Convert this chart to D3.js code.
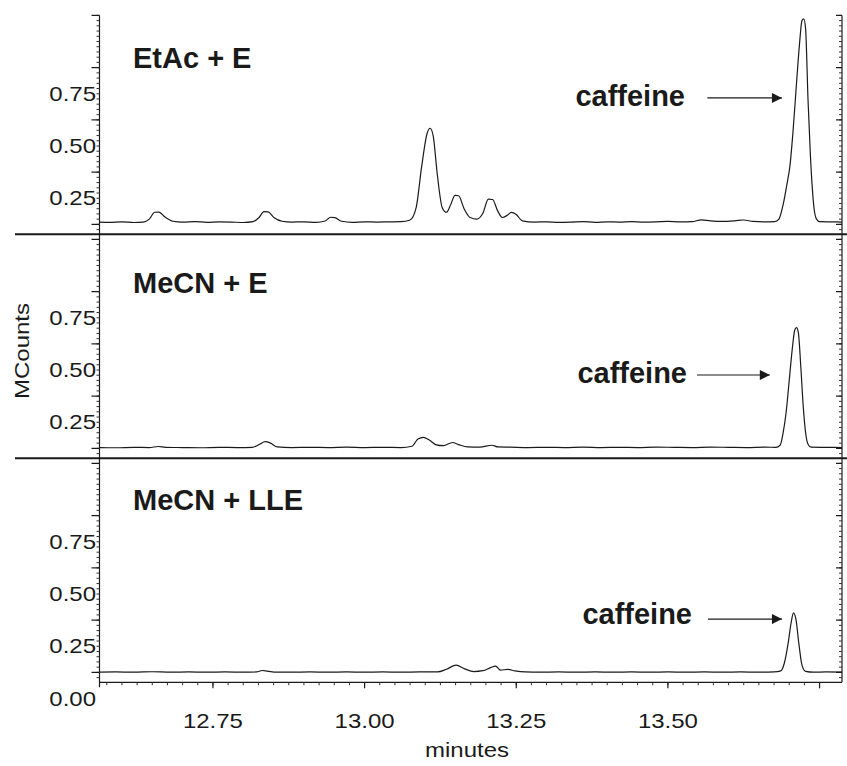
<!DOCTYPE html>
<html>
<head>
<meta charset="utf-8">
<script src="https://cdn.jsdelivr.net/npm/d3@7"></script>
<style>
  body { margin: 0; background: #fff; }
  svg { display: block; }
  text { font-family: "Liberation Sans", Arial, sans-serif; fill: #1a1a1a; }
</style>
</head>
<body>
<div id="chart"></div>
<script>
// panel titles, top to bottom
var panelNames = ["EtAc + E", "MeCN + E", "MeCN + LLE"];

// y tick labels (MCounts); the bottom panel also shows 0.00
var yLabelValues = [0.25, 0.50, 0.75];
var yMajorValues = [0.125, 0.375, 0.625, 0.875, 1.125];
var xMajorValues = [12.75, 13.00, 13.25, 13.50, 13.75];
var xTickLabels = ["12.75", "13.00", "13.25", "13.50"];

// [minutes, MCounts]
var etacTrace = [
  [12.563, 0.136], [12.58, 0.135], [12.60, 0.137], [12.62, 0.134], [12.635, 0.136],
  [12.645, 0.150], [12.654, 0.183], [12.661, 0.184], [12.671, 0.160], [12.684, 0.140],
  [12.70, 0.136], [12.72, 0.138], [12.74, 0.135], [12.76, 0.137], [12.78, 0.136],
  [12.80, 0.134], [12.816, 0.138], [12.826, 0.158], [12.834, 0.186], [12.841, 0.185],
  [12.851, 0.157], [12.864, 0.140], [12.88, 0.136], [12.90, 0.137], [12.92, 0.135],
  [12.935, 0.141], [12.944, 0.159], [12.951, 0.157], [12.962, 0.140], [12.98, 0.135],
  [13.00, 0.137], [13.02, 0.136], [13.04, 0.137], [13.06, 0.138], [13.075, 0.146],
  [13.085, 0.205], [13.094, 0.400], [13.103, 0.560], [13.108, 0.585], [13.113, 0.550],
  [13.120, 0.360], [13.128, 0.205], [13.135, 0.183], [13.142, 0.220], [13.149, 0.264],
  [13.155, 0.262], [13.164, 0.200], [13.174, 0.158], [13.185, 0.150], [13.195, 0.178],
  [13.204, 0.246], [13.211, 0.244], [13.219, 0.192], [13.227, 0.158], [13.235, 0.168],
  [13.242, 0.182], [13.250, 0.172], [13.260, 0.142], [13.28, 0.136], [13.30, 0.137],
  [13.32, 0.135], [13.34, 0.136], [13.36, 0.138], [13.38, 0.135], [13.40, 0.137],
  [13.42, 0.136], [13.44, 0.138], [13.46, 0.136], [13.48, 0.137], [13.50, 0.139],
  [13.52, 0.137], [13.54, 0.138], [13.555, 0.147], [13.57, 0.142], [13.59, 0.139],
  [13.61, 0.142], [13.625, 0.146], [13.64, 0.139], [13.66, 0.137], [13.676, 0.138],
  [13.683, 0.150], [13.690, 0.220], [13.697, 0.330], [13.701, 0.400], [13.706, 0.560],
  [13.712, 0.800], [13.717, 0.990], [13.721, 1.100], [13.724, 1.108], [13.727, 1.060],
  [13.731, 0.720], [13.735, 0.450], [13.738, 0.300], [13.741, 0.200], [13.745, 0.150],
  [13.750, 0.138], [13.77, 0.137], [13.787, 0.136]
];

var mecnTrace = [
  [12.563, 0.129], [12.59, 0.128], [12.62, 0.130], [12.645, 0.129], [12.66, 0.134],
  [12.672, 0.130], [12.70, 0.129], [12.73, 0.128], [12.76, 0.130], [12.79, 0.129],
  [12.815, 0.130], [12.827, 0.145], [12.836, 0.157], [12.845, 0.150], [12.856, 0.132],
  [12.88, 0.129], [12.91, 0.130], [12.94, 0.129], [12.97, 0.131], [13.00, 0.129],
  [13.03, 0.130], [13.06, 0.129], [13.078, 0.135], [13.088, 0.170], [13.097, 0.178],
  [13.106, 0.166], [13.118, 0.142], [13.13, 0.138], [13.145, 0.153], [13.155, 0.143],
  [13.17, 0.132], [13.19, 0.131], [13.21, 0.140], [13.22, 0.132], [13.24, 0.131],
  [13.27, 0.129], [13.30, 0.130], [13.33, 0.129], [13.36, 0.131], [13.39, 0.129],
  [13.42, 0.130], [13.45, 0.129], [13.48, 0.131], [13.51, 0.130], [13.54, 0.129],
  [13.57, 0.131], [13.60, 0.130], [13.63, 0.129], [13.66, 0.131], [13.678, 0.130],
  [13.685, 0.140], [13.690, 0.200], [13.695, 0.300], [13.700, 0.450], [13.705, 0.600],
  [13.709, 0.690], [13.712, 0.703], [13.715, 0.680], [13.719, 0.520], [13.723, 0.330],
  [13.727, 0.200], [13.731, 0.145], [13.736, 0.131], [13.76, 0.130], [13.787, 0.129]
];

var lleTrace = [
  [12.563, 0.126], [12.59, 0.127], [12.62, 0.126], [12.65, 0.128], [12.68, 0.126],
  [12.71, 0.127], [12.74, 0.126], [12.77, 0.127], [12.80, 0.126], [12.822, 0.127],
  [12.831, 0.134], [12.840, 0.131], [12.855, 0.126], [12.88, 0.126], [12.91, 0.127],
  [12.94, 0.126], [12.97, 0.127], [13.00, 0.126], [13.03, 0.127], [13.06, 0.126],
  [13.09, 0.127], [13.12, 0.127], [13.135, 0.140], [13.151, 0.160], [13.165, 0.142],
  [13.18, 0.129], [13.195, 0.133], [13.208, 0.148], [13.216, 0.155], [13.224, 0.136],
  [13.236, 0.139], [13.248, 0.132], [13.265, 0.127], [13.29, 0.126], [13.32, 0.127],
  [13.35, 0.126], [13.38, 0.127], [13.41, 0.126], [13.44, 0.127], [13.47, 0.126],
  [13.50, 0.127], [13.53, 0.126], [13.56, 0.127], [13.59, 0.126], [13.62, 0.127],
  [13.65, 0.126], [13.675, 0.127], [13.686, 0.132], [13.692, 0.170], [13.698, 0.260],
  [13.703, 0.360], [13.707, 0.410], [13.711, 0.380], [13.716, 0.260], [13.721, 0.160],
  [13.727, 0.130], [13.74, 0.126], [13.76, 0.127], [13.787, 0.126]
];

var traces = [etacTrace, mecnTrace, lleTrace];

var width = 847, height = 766;
var plotLeft = 99.5, plotRight = 842;
var panelStep = 224;
var pxPerUnit = 209;

var svg = d3.select("#chart").append("svg")
  .attr("width", width)
  .attr("height", height);

var x = d3.scaleLinear().domain([12.563, 13.787]).range([plotLeft, plotRight]);

function yFor(i) {
  var y0 = 250.5 + panelStep * i;
  return d3.scaleLinear().domain([0, 1.125]).range([y0, y0 - 1.125 * pxPerUnit]);
}

// panel edges in data units
var panelLow = 0.0775, panelHigh = 1.149;
var bottomY = yFor(2)(panelLow);
var topY = yFor(0)(1.125);

// vertical frame lines
svg.append("line")
  .attr("x1", plotLeft).attr("x2", plotLeft)
  .attr("y1", topY).attr("y2", bottomY + 5)
  .attr("stroke", "#1a1a1a").attr("stroke-width", 1.2);
svg.append("line")
  .attr("x1", plotRight).attr("x2", plotRight)
  .attr("y1", topY).attr("y2", bottomY)
  .attr("stroke", "#1a1a1a").attr("stroke-width", 1.2);

var minorVals = d3.range(4, 46).map(function (k) { return k * 0.025; });

var line = d3.line()
  .x(function (d) { return x(d[0]); })
  .curve(d3.curveMonotoneX);

var annot = [
  { textY: 0.69, arrowY: 0.73, textEnd: 685, from: 13.565, to: 13.688 },
  { textY: 0.438, arrowY: 0.476, textEnd: 687, from: 13.548, to: 13.668 },
  { textY: 0.356, arrowY: 0.38, textEnd: 692, from: 13.566, to: 13.688 }
];
var titleY = [0.873, 0.870, 0.902];

svg.append("defs").append("marker")
  .attr("id", "arrow")
  .attr("viewBox", "0 0 10 10")
  .attr("refX", 10).attr("refY", 5)
  .attr("markerWidth", 15).attr("markerHeight", 10)
  .attr("markerUnits", "userSpaceOnUse")
  .attr("orient", "auto")
  .append("path")
  .attr("d", "M0,0 L10,5 L0,10 Z")
  .attr("fill", "#1a1a1a");

traces.forEach(function (data, i) {
  var y = yFor(i);
  var g = svg.append("g");
  var hi = i === 0 ? 1.125 : panelHigh;

  // left ticks (outward)
  var mins = minorVals.filter(function (v) { return v <= hi + 1e-6 && v >= panelLow; });
  g.selectAll(".lmin").data(mins).enter().append("line")
    .attr("x1", plotLeft - 3).attr("x2", plotLeft)
    .attr("y1", function (d) { return y(d); }).attr("y2", function (d) { return y(d); })
    .attr("stroke", "#333").attr("stroke-width", 1);
  g.selectAll(".lmaj").data(yMajorValues).enter().append("line")
    .attr("x1", plotLeft - 8).attr("x2", plotLeft)
    .attr("y1", function (d) { return y(d); }).attr("y2", function (d) { return y(d); })
    .attr("stroke", "#1a1a1a").attr("stroke-width", 1.2);
  // right ticks (inward)
  g.selectAll(".rmin").data(mins).enter().append("line")
    .attr("x1", plotRight - 3).attr("x2", plotRight)
    .attr("y1", function (d) { return y(d); }).attr("y2", function (d) { return y(d); })
    .attr("stroke", "#333").attr("stroke-width", 1);
  g.selectAll(".rmaj").data(yMajorValues).enter().append("line")
    .attr("x1", plotRight - 6).attr("x2", plotRight)
    .attr("y1", function (d) { return y(d); }).attr("y2", function (d) { return y(d); })
    .attr("stroke", "#1a1a1a").attr("stroke-width", 1.2);

  var labs = i === 2 ? [0].concat(yLabelValues) : yLabelValues;
  g.selectAll(".ylab").data(labs).enter().append("text")
    .attr("transform", function (d) { return "translate(96," + (y(d) + 7) + ") scale(1.2,1)"; })
    .attr("text-anchor", "end")
    .style("font-size", "20px")
    .text(function (d) { return d3.format(".2f")(d); });

  // separator under the panel (top two)
  if (i < 2) {
    g.append("line")
      .attr("x1", 15).attr("x2", width)
      .attr("y1", y(panelLow)).attr("y2", y(panelLow))
      .attr("stroke", "#1a1a1a").attr("stroke-width", 2);
  }

  g.append("path")
    .datum(data)
    .attr("d", line.y(function (d) { return y(d[1]); }))
    .attr("fill", "none")
    .attr("stroke", "#1a1a1a")
    .attr("stroke-width", 1.2);

  g.append("text")
    .attr("x", 133).attr("y", y(titleY[i]))
    .style("font-size", "29px").style("font-weight", "bold")
    .text(panelNames[i]);

  var a = annot[i];
  g.append("text")
    .attr("x", a.textEnd).attr("y", y(a.textY))
    .attr("text-anchor", "end")
    .style("font-size", "29px").style("font-weight", "bold")
    .text("caffeine");
  g.append("line")
    .attr("x1", x(a.from)).attr("x2", x(a.to))
    .attr("y1", y(a.arrowY)).attr("y2", y(a.arrowY))
    .attr("stroke", "#1a1a1a").attr("stroke-width", 1.2)
    .attr("marker-end", "url(#arrow)");
});

// bottom time axis
var xAxis = svg.append("g");
xAxis.append("line")
  .attr("x1", plotLeft).attr("x2", plotRight)
  .attr("y1", bottomY).attr("y2", bottomY)
  .attr("stroke", "#1a1a1a").attr("stroke-width", 1.2);
var xMinor = d3.range(1, 49).map(function (k) { return 12.55 + k * 0.025; })
  .filter(function (v) { return v > 12.563 && v < 13.787; });
xAxis.selectAll(".xmin").data(xMinor).enter().append("line")
  .attr("x1", function (d) { return x(d); }).attr("x2", function (d) { return x(d); })
  .attr("y1", bottomY).attr("y2", bottomY + 3)
  .attr("stroke", "#333").attr("stroke-width", 1);
xAxis.selectAll(".xmaj").data(xMajorValues).enter().append("line")
  .attr("x1", function (d) { return x(d); }).attr("x2", function (d) { return x(d); })
  .attr("y1", bottomY).attr("y2", bottomY + 6)
  .attr("stroke", "#1a1a1a").attr("stroke-width", 1.2);
xAxis.selectAll(".xlab").data(xTickLabels).enter().append("text")
  .attr("transform", function (d, i) { return "translate(" + x(xMajorValues[i]) + ",728) scale(1.2,1)"; })
  .attr("text-anchor", "middle")
  .style("font-size", "20px")
  .text(function (d) { return d; });

svg.append("text")
  .attr("transform", "translate(467,757) scale(1.2,1)")
  .attr("text-anchor", "middle")
  .style("font-size", "20px")
  .text("minutes");

svg.append("text")
  .attr("transform", "translate(29,351) rotate(-90) scale(1.2,1)")
  .attr("text-anchor", "middle")
  .style("font-size", "20px")
  .text("MCounts");
</script>
</body>
</html>
